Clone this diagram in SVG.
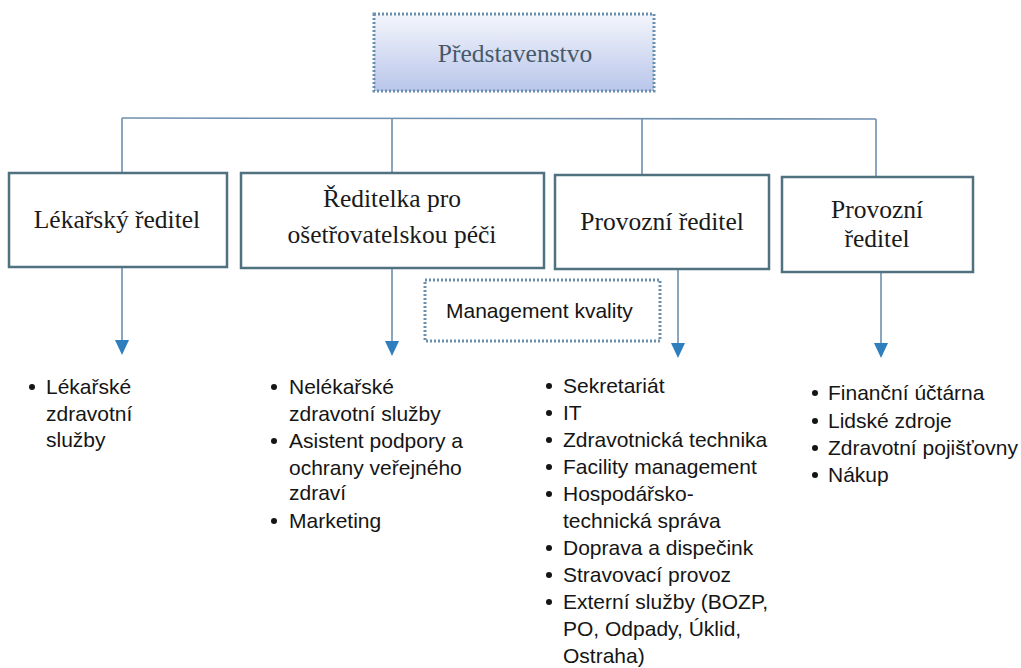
<svg xmlns="http://www.w3.org/2000/svg" width="1021" height="668" viewBox="0 0 1021 668">
<defs>
<linearGradient id="topfill" x1="0" y1="0" x2="0" y2="1">
<stop offset="0" stop-color="#f4f6fc"/>
<stop offset="1" stop-color="#b9c6ea"/>
</linearGradient>
<style>
.box{fill:#ffffff;stroke:#4f7180;stroke-width:2.5}
.dot{fill:none;stroke:#6b8fae;stroke-width:3;stroke-dasharray:2 2}
.serif{font-family:"Liberation Serif","Times New Roman",serif;font-size:25.5px;fill:#1a1a1a;text-anchor:middle}
.sans{font-family:"Liberation Sans",Arial,sans-serif;font-size:21px;fill:#151515}
.line{fill:none;stroke:#6f8fae;stroke-width:1.6}
.bul{fill:#151515}
.head{fill:#2f7fbf}
</style>
</defs>
<rect width="1021" height="668" fill="#ffffff"/>

<g id="connectors">
<path class="line" d="M122,118 L876,119"/>
<path class="line" d="M122,118 L122,173"/>
<path class="line" d="M392,118 L392,173"/>
<path class="line" d="M642,119 L642,175"/>
<path class="line" d="M876,119 L876,177"/>
<path class="line" d="M122,268 L122,340"/>
<polygon class="head" points="115,340 129,340 122,355"/>
<path class="line" d="M392,268 L392,341"/>
<polygon class="head" points="385,341 399,341 392,356"/>
<path class="line" d="M678,269 L678,343"/>
<polygon class="head" points="671,343 685,343 678,358"/>
<path class="line" d="M881,272 L881,343"/>
<polygon class="head" points="874,343 888,343 881,358"/>
</g>

<g id="predstavenstvo">
<rect x="374" y="14" width="280" height="77" fill="url(#topfill)"/>
<rect class="dot" x="374" y="14" width="280" height="77"/>
<text x="515" y="62" font-family="'Liberation Serif','Times New Roman',serif" font-size="25.5" fill="#46596a" text-anchor="middle">Představenstvo</text>
</g>

<g id="lekarsky">
<rect class="box" x="9" y="173" width="218" height="94"/>
<text class="serif" x="117" y="228">Lékařský ředitel</text>
</g>

<g id="reditelka">
<rect class="box" x="241" y="173" width="303" height="95"/>
<text class="serif" x="392" y="207">Ředitelka pro</text>
<text class="serif" x="392" y="243">ošetřovatelskou péči</text>
</g>

<g id="provozni1">
<rect class="box" x="555" y="175" width="214" height="94"/>
<text class="serif" x="662" y="230">Provozní ředitel</text>
</g>

<g id="provozni2">
<rect class="box" x="782" y="177" width="191" height="95"/>
<text class="serif" x="877" y="218">Provozní</text>
<text class="serif" x="877" y="247">ředitel</text>
</g>

<g id="management">
<rect class="dot" x="425" y="280" width="235" height="61" stroke-width="2.5"/>
<text class="sans" x="446" y="318">Management kvality</text>
</g>

<g id="list1">
<circle class="bul" cx="32" cy="387" r="3"/>
<text class="sans" x="46" y="394">Lékařské</text>
<text class="sans" x="46" y="421">zdravotní</text>
<text class="sans" x="46" y="447">služby</text>
</g>

<g id="list2">
<circle class="bul" cx="274" cy="387" r="3"/>
<text class="sans" x="289" y="394">Nelékařské</text>
<text class="sans" x="289" y="421">zdravotní služby</text>
<circle class="bul" cx="274" cy="441" r="3"/>
<text class="sans" x="289" y="448">Asistent podpory a</text>
<text class="sans" x="289" y="475">ochrany veřejného</text>
<text class="sans" x="289" y="500">zdraví</text>
<circle class="bul" cx="274" cy="521" r="3"/>
<text class="sans" x="289" y="528">Marketing</text>
</g>

<g id="list3">
<circle class="bul" cx="549" cy="386" r="3"/>
<text class="sans" x="563" y="393">Sekretariát</text>
<circle class="bul" cx="549" cy="413" r="3"/>
<text class="sans" x="563" y="420">IT</text>
<circle class="bul" cx="549" cy="440" r="3"/>
<text class="sans" x="563" y="447">Zdravotnická technika</text>
<circle class="bul" cx="549" cy="467" r="3"/>
<text class="sans" x="563" y="474">Facility management</text>
<circle class="bul" cx="549" cy="494" r="3"/>
<text class="sans" x="563" y="501">Hospodářsko-</text>
<text class="sans" x="563" y="528">technická správa</text>
<circle class="bul" cx="549" cy="548" r="3"/>
<text class="sans" x="563" y="555">Doprava a dispečink</text>
<circle class="bul" cx="549" cy="575" r="3"/>
<text class="sans" x="563" y="582">Stravovací provoz</text>
<circle class="bul" cx="549" cy="602" r="3"/>
<text class="sans" x="563" y="609">Externí služby (BOZP,</text>
<text class="sans" x="563" y="636">PO, Odpady, Úklid,</text>
<text class="sans" x="563" y="663">Ostraha)</text>
</g>

<g id="list4">
<circle class="bul" cx="815" cy="393" r="3"/>
<text class="sans" x="828" y="400">Finanční účtárna</text>
<circle class="bul" cx="815" cy="421" r="3"/>
<text class="sans" x="828" y="428">Lidské zdroje</text>
<circle class="bul" cx="815" cy="448" r="3"/>
<text class="sans" x="828" y="455">Zdravotní pojišťovny</text>
<circle class="bul" cx="815" cy="475" r="3"/>
<text class="sans" x="828" y="482">Nákup</text>
</g>
</svg>
